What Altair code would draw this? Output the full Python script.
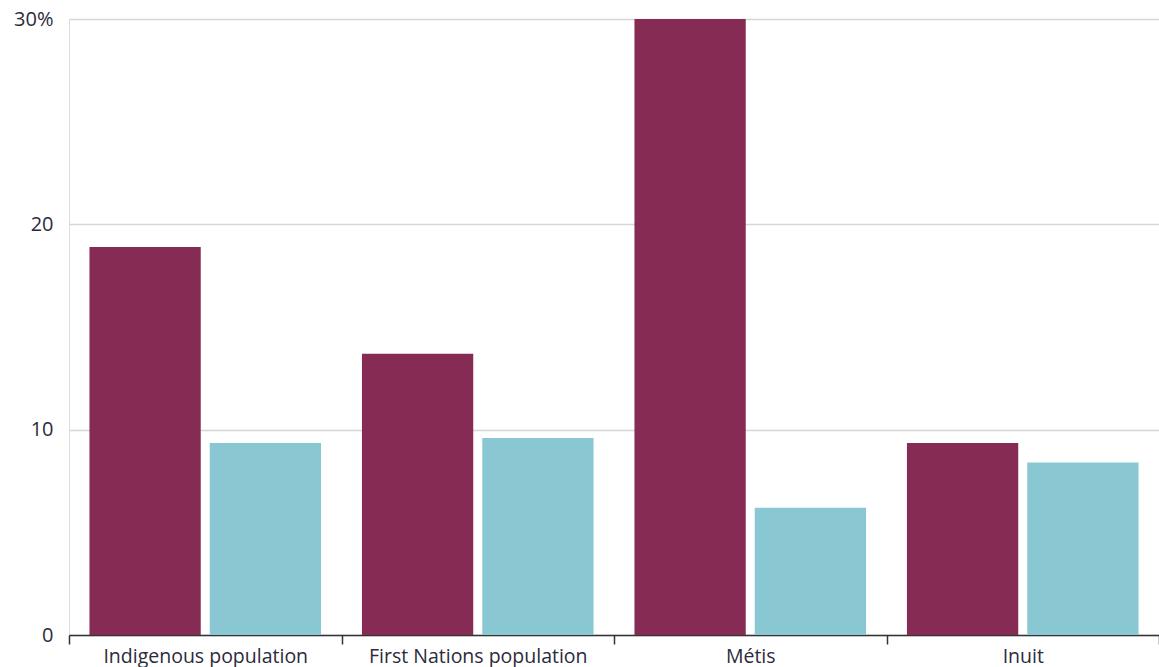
import altair as alt
import pandas as pd

categories = ["Indigenous population", "First Nations population", "Métis", "Inuit"]
series_names = ["Series 1", "Series 2"]
series1 = [18.9, 13.7, 30.0, 9.35]
series2 = [9.35, 9.6, 6.2, 8.4]

rows = []
for c, a, b in zip(categories, series1, series2):
    rows.append({"category": c, "series": series_names[0], "value": a})
    rows.append({"category": c, "series": series_names[1], "value": b})
df = pd.DataFrame(rows)

font = "Open Sans"
text_color = "#2b2b3b"

bars = alt.Chart(df).mark_bar().encode(
    x=alt.X("category:N", sort=categories, title=None,
            scale=alt.Scale(paddingInner=0, paddingOuter=0),
            axis=alt.Axis(labelAngle=0, tickBand="extent", tickSize=9, tickWidth=1.5,
                          tickColor="#333333", domainColor="#333333", domainWidth=1.5,
                          labelFont=font, labelFontSize=19.5, labelColor=text_color,
                          labelLimit=0, labelPadding=3, labelBaseline="top", grid=False)),
    xOffset=alt.XOffset("series:N", sort=series_names,
                        scale=alt.Scale(paddingInner=0.075, paddingOuter=0.17)),
    y=alt.Y("value:Q", title=None,
            scale=alt.Scale(domain=[0, 30], nice=False),
            axis=alt.Axis(values=[0, 10, 20, 30], domain=False, ticks=False,
                          labelExpr="datum.value == 30 ? '30%' : datum.label",
                          labelFont=font, labelFontSize=20, labelColor=text_color,
                          labelPadding=16, gridColor="#d6d6d6", gridWidth=1.5)),
    color=alt.Color("series:N", sort=series_names, legend=None,
                    scale=alt.Scale(domain=series_names, range=["#862c54", "#89c8d2"])),
)

chart = bars.properties(
    width=1090, height=616,
    padding={"left": 69, "top": 19, "right": 0, "bottom": 32},
    autosize=alt.AutoSizeParams(type="none"),
).configure_view(stroke=None).configure(background="white")

chart.save("out.html", embed_options={"renderer": "svg", "actions": False})
